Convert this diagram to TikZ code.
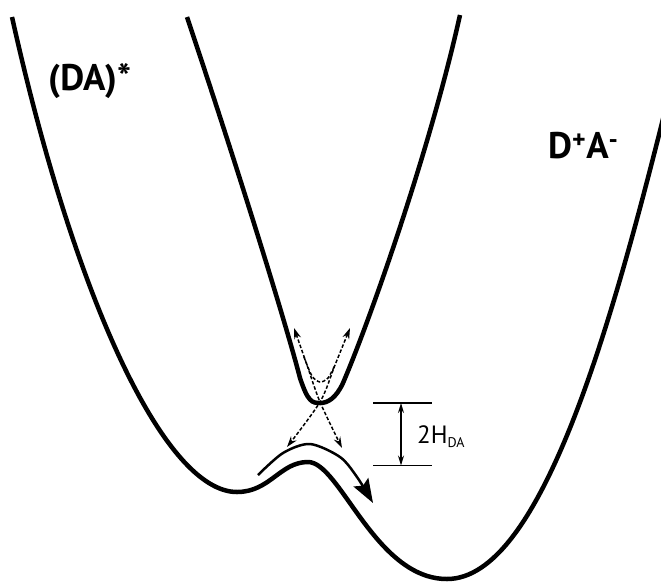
\documentclass[tikz,border=0pt]{standalone}
\usepackage{fontspec}
\setmainfont{PT Sans}
\usetikzlibrary{arrows.meta}
\tikzset{
  surface/.style={line width=4.5pt, line join=round},
  flow/.style={line width=2.5pt, -{Stealth[length=24pt, width=17pt, inset=4pt]}},
  diab/.style={line width=1.5pt, dash pattern=on 3.5pt off 2pt, {Stealth[length=11pt, width=7pt]}-{Stealth[length=11pt, width=7pt]}},
  bar/.style={line width=1.3pt},
  gap/.style={line width=1.3pt, {Stealth[length=10pt, width=6pt]}-{Stealth[length=10pt, width=6pt]}},
  lbl/.style={anchor=base west, inner sep=0pt, font=\bfseries\fontsize{37}{40}\selectfont}
}

\begin{document}
\begin{tikzpicture}[x=1pt, y=-1pt]
  \useasboundingbox (0,0) rectangle (661,582);

  % lower adiabatic surface
  \draw[surface] (12,17) .. controls (75,300) and (165,492) .. (237,492)
    .. controls (270,492) and (280,462) .. (308,462)
    .. controls (340,462) and (375,579) .. (447,579)
    .. controls (540,579) and (610,330) .. (664,115);
  % upper adiabatic surface
  \draw[surface] (187,17) .. controls (235,160) and (285,320) .. (300,378)
    .. controls (308,402) and (312,403) .. (320,403)
    .. controls (328,403) and (336,398) .. (343,383)
    .. controls (370,320) and (430,150) .. (460,15);

  % diabatic crossing
  \draw[diab] plot[smooth] coordinates {(294,328) (307,365) (320,402) (342,448)};
  \draw[diab] plot[smooth] coordinates {(350,328) (335,365) (320,402) (287,447)};
  \draw[line width=1.5pt, dash pattern=on 3.5pt off 2pt] plot[smooth] coordinates {(304,357) (312,376) (320,382) (328,378) (335,365)};

  % transfer arrow
  \draw[flow] plot[smooth] coordinates {(258,475) (283,453) (310,444) (340,457) (357,477) (373,503)};

  % splitting
  \coordinate (tl) at (373,403);
  \coordinate (tr) at (432,403);
  \coordinate (bl) at (373,465.5);
  \coordinate (br) at (432,465.5);
  \coordinate (gtop) at (401,403);
  \coordinate (gbot) at (401,465.5);
  \draw[bar] (tl) -- (tr);
  \draw[bar] (bl) -- (br);
  \draw[gap] (gtop) -- (gbot);
  \node[anchor=base west, inner sep=0pt, font=\fontsize{25}{28}\selectfont] (split) at (417,443) {2H\raisebox{-4pt}{\fontsize{14}{15}\selectfont DA}};

  \node[lbl] (da) at (48,90) {(DA)*};
  \node[lbl] (dpam) at (548,158) {D\textsuperscript{+}A\textsuperscript{-}};
\end{tikzpicture}
\end{document}
